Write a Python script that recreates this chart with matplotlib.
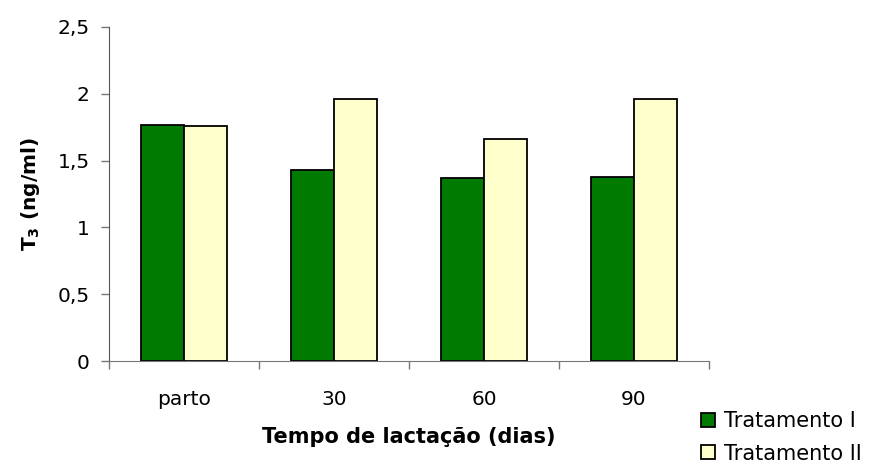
import numpy as np
import matplotlib
matplotlib.use("Agg")
import matplotlib.pyplot as plt
from matplotlib.patches import Patch

plt.rcParams['font.family'] = ['DejaVu Sans']

# dados
categorias = ["parto", "30", "60", "90"]
tratamento_1 = [1.77, 1.43, 1.37, 1.38]
tratamento_2 = [1.76, 1.96, 1.66, 1.96]
y_ticks = [0, 0.5, 1, 1.5, 2, 2.5]
y_ticklabels = ["0", "0,5", "1", "1,5", "2", "2,5"]

cor_1 = "#007A00"
cor_2 = "#FFFFCC"

fig = plt.figure(figsize=(8.76, 4.65), dpi=100)
ax = fig.add_axes([109/876, 1 - 361/465, 600/876, 334/465])

x = np.arange(len(categorias))
w = 0.287
ax.bar(x - w/2, tratamento_1, w, color=cor_1, edgecolor="black", linewidth=1.3)
ax.bar(x + w/2, tratamento_2, w, color=cor_2, edgecolor="black", linewidth=1.3)

ax.set_xlim(-0.5, len(categorias) - 0.5)
ax.set_ylim(0, 2.5)

# eixo y
ax.set_yticks(y_ticks)
ax.set_yticklabels(y_ticklabels, fontsize=14.5)
ax.tick_params(axis="y", length=6, width=1, color="#777777", pad=8)

# eixo x: marcas nas divisões, rótulos no centro
ax.set_xticks(np.arange(len(categorias) + 1) - 0.5)
ax.set_xticklabels([])
ax.set_xticks(x, minor=True)
ax.set_xticklabels(categorias, minor=True, fontsize=14.5)
ax.tick_params(axis="x", which="major", length=6, width=1, color="#777777")
ax.tick_params(axis="x", which="minor", length=0, pad=21)

for s in ["top", "right"]:
    ax.spines[s].set_visible(False)
ax.spines["left"].set_color("#555555")
ax.spines["bottom"].set_color("#777777")

ax.set_xlabel("Tempo de lactação (dias)", fontsize=15, fontweight="bold", labelpad=13)
ax.set_ylabel("T$_\\mathbf{3}$ (ng/ml)", fontsize=14.5, fontweight="bold", labelpad=11)

handles = [Patch(facecolor=cor_1, edgecolor="black", linewidth=1.3),
           Patch(facecolor=cor_2, edgecolor="black", linewidth=1.3)]
fig.legend(handles, ["Tratamento I", "Tratamento II"], loc="upper left",
           bbox_to_anchor=(697/876, 1 - 407/465), frameon=False, fontsize=15,
           handlelength=0.65, handleheight=0.65, handletextpad=0.45,
           labelspacing=0.6, borderaxespad=0, borderpad=0.2)

fig.savefig("out.png", dpi=100)
